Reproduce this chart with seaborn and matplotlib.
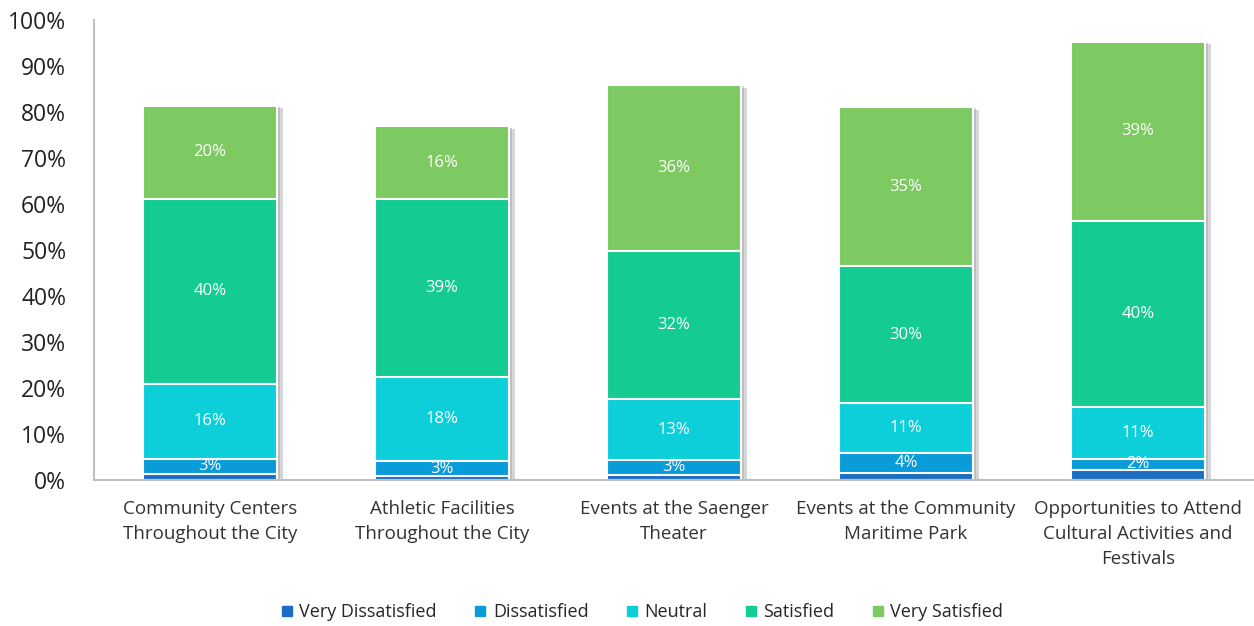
import matplotlib
matplotlib.use("Agg")
import matplotlib.pyplot as plt
import matplotlib.patheffects as pe
from matplotlib.lines import Line2D
import numpy as np
import pandas as pd
import seaborn as sns

categories = ["Community Centers\nThroughout the City",
              "Athletic Facilities\nThroughout the City",
              "Events at the Saenger\nTheater",
              "Events at the Community\nMaritime Park",
              "Opportunities to Attend\nCultural Activities and\nFestivals"]
levels = ["Very Dissatisfied", "Dissatisfied", "Neutral", "Satisfied", "Very Satisfied"]
very_dissatisfied = [1.3, 0.8, 1.2, 1.5, 2.2]
dissatisfied = [3.4, 3.3, 3.1, 4.4, 2.4]
neutral = [16.3, 18.3, 13.4, 10.8, 11.4]
satisfied = [40.2, 38.7, 32.1, 29.8, 40.4]
very_satisfied = [20.2, 15.8, 36.1, 34.6, 38.9]
colors = ["#1B6EC2", "#0A9BD9", "#0DCFDA", "#14CC92", "#7DC962"]

series = [very_dissatisfied, dissatisfied, neutral, satisfied, very_satisfied]
df = pd.DataFrame(dict(zip(levels, series)))
df["category"] = categories
cum = df[levels].cumsum(axis=1)

sns.set_style("white")
plt.rcParams["font.family"] = ["Open Sans", "DejaVu Sans"]

fig = plt.figure(figsize=(12.54, 6.26), dpi=100)
ax = fig.add_axes([0.075, 0.233, 0.925, 0.735])

# draw cumulative bars from the top down so each level sits on the previous
for i in reversed(range(len(levels))):
    sns.barplot(x=df["category"], y=cum[levels[i]], color=colors[i], ax=ax,
                width=0.58, edgecolor="white", linewidth=1.5, saturation=1)

# soft shadow on the full-height bars
for p in ax.patches[:len(categories)]:
    p.set_path_effects([pe.SimplePatchShadow(offset=(4, -2), shadow_rgbFace="#8c8c8c", alpha=0.35),
                        pe.SimplePatchShadow(offset=(2, -1), shadow_rgbFace="#8c8c8c", alpha=0.35),
                        pe.Normal()])

# segment labels
for j in range(len(categories)):
    for i in range(1, len(levels)):
        v = df[levels[i]][j]
        mid = cum[levels[i]][j] - v / 2
        ax.text(j, mid, f"{round(v):.0f}%", ha="center", va="center",
                color="white", fontsize=12)

ax.set_ylim(0, 100)
ax.set_xlim(-0.5, 4.5)
ax.set_yticks(np.arange(0, 101, 10))
ax.set_yticklabels([f"{t}%" for t in range(0, 101, 10)], fontsize=16.5, color="#222222")
ax.tick_params(axis="x", labelsize=13.5, colors="#333333", pad=11)
ax.tick_params(axis="y", pad=20, length=0)
ax.set_xlabel("")
ax.set_ylabel("")
for s in ["top", "right"]:
    ax.spines[s].set_visible(False)
for s in ["left", "bottom"]:
    ax.spines[s].set_color("#c0c0c0")
    ax.spines[s].set_linewidth(1.5)
for lbl in ax.get_xticklabels():
    lbl.set_linespacing(1.5)

handles = [Line2D([], [], marker="s", linestyle="", markersize=7, color=c) for c in colors]
fig.legend(handles, levels, loc="center", bbox_to_anchor=(0.51, 0.022), ncol=5,
           frameon=False, fontsize=13, handletextpad=0.1, handlelength=1.2,
           columnspacing=1.8)

fig.savefig("out.png", dpi=100)
